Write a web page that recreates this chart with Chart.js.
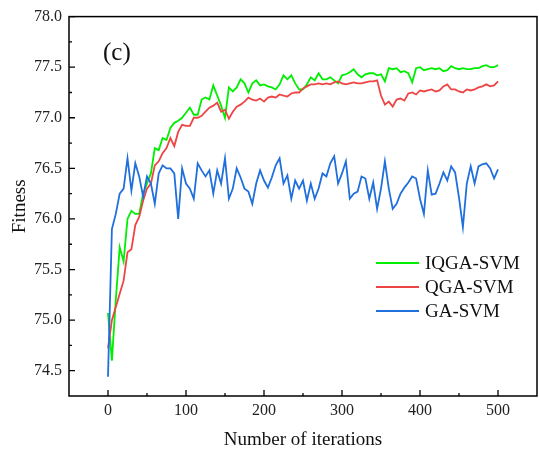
<!DOCTYPE html>
<html>
<head>
<meta charset="utf-8">
<script src="https://cdn.jsdelivr.net/npm/chart.js@4/dist/chart.umd.min.js"></script>
<style>
  body { margin: 0; background: #fff; }
  canvas { display: block; }
</style>
</head>
<body>
<canvas id="fitChart" width="539" height="456"></canvas>
<script>
// iterations (sampled every 5)
const iterations = [
  0, 5, 10, 15, 20, 25, 30, 35, 40, 45, 50, 55, 60, 65, 70, 75, 80, 85, 90, 95,
  100, 105, 110, 115, 120, 125, 130, 135, 140, 145, 150, 155, 160, 165, 170, 175, 180, 185, 190, 195,
  200, 205, 210, 215, 220, 225, 230, 235, 240, 245, 250, 255, 260, 265, 270, 275, 280, 285, 290, 295,
  300, 305, 310, 315, 320, 325, 330, 335, 340, 345, 350, 355, 360, 365, 370, 375, 380, 385, 390, 395,
  400, 405, 410, 415, 420, 425, 430, 435, 440, 445, 450, 455, 460, 465, 470, 475, 480, 485, 490, 495, 500
];

const iqgaSvm = [
  75.07, 74.60, 75.20, 75.72, 75.58, 76.00, 76.08, 76.05, 76.05, 76.25, 76.35, 76.45, 76.70, 76.68, 76.80, 76.78, 76.90, 76.95, 76.97, 77.00,
  77.05, 77.10, 77.03, 77.03, 77.18, 77.20, 77.18, 77.32, 77.22, 77.12, 77.00, 77.30, 77.26, 77.30, 77.38, 77.34, 77.25, 77.34, 77.37, 77.32,
  77.33, 77.31, 77.30, 77.28, 77.33, 77.42, 77.38, 77.42, 77.34, 77.28, 77.28, 77.33, 77.40, 77.37, 77.44, 77.38, 77.38, 77.40, 77.37, 77.34,
  77.42, 77.43, 77.45, 77.48, 77.43, 77.40, 77.43, 77.44, 77.44, 77.42, 77.43, 77.36, 77.49, 77.48, 77.49, 77.45, 77.46, 77.44, 77.35, 77.49,
  77.50, 77.47, 77.48, 77.49, 77.48, 77.49, 77.46, 77.47, 77.51, 77.49, 77.48, 77.49, 77.48, 77.48, 77.49, 77.49, 77.51, 77.52, 77.50, 77.50, 77.52
];

const qgaSvm = [
  74.72, 75.00, 75.13, 75.26, 75.39, 75.67, 75.70, 75.94, 76.02, 76.18, 76.30, 76.35, 76.53, 76.57, 76.65, 76.70, 76.80, 76.72, 76.86, 76.93,
  76.92, 76.92, 77.00, 77.00, 77.02, 77.06, 77.10, 77.12, 77.15, 77.06, 77.08, 76.99, 77.06, 77.11, 77.13, 77.16, 77.20, 77.18, 77.17, 77.19,
  77.16, 77.20, 77.21, 77.20, 77.23, 77.22, 77.21, 77.24, 77.25, 77.25, 77.29, 77.31, 77.33, 77.33, 77.34, 77.33, 77.34, 77.33, 77.35, 77.36,
  77.34, 77.33, 77.34, 77.35, 77.34, 77.34, 77.35, 77.36, 77.36, 77.37, 77.22, 77.13, 77.16, 77.11, 77.18, 77.19, 77.17, 77.24, 77.25, 77.23,
  77.27, 77.26, 77.27, 77.28, 77.26, 77.27, 77.31, 77.33, 77.28, 77.28, 77.26, 77.25, 77.28, 77.27, 77.28, 77.30, 77.31, 77.33, 77.31, 77.32, 77.36
];

const gaSvm = [
  74.44, 75.90, 76.05, 76.25, 76.30, 76.60, 76.28, 76.55, 76.42, 76.22, 76.42, 76.35, 76.15, 76.45, 76.53, 76.50, 76.50, 76.45, 76.00, 76.50,
  76.35, 76.30, 76.20, 76.55, 76.48, 76.42, 76.48, 76.25, 76.48, 76.35, 76.60, 76.20, 76.30, 76.50, 76.41, 76.30, 76.27, 76.15, 76.35, 76.48,
  76.38, 76.31, 76.41, 76.53, 76.60, 76.35, 76.43, 76.20, 76.38, 76.30, 76.38, 76.18, 76.35, 76.20, 76.30, 76.45, 76.42, 76.55, 76.62, 76.35,
  76.45, 76.57, 76.20, 76.25, 76.27, 76.42, 76.40, 76.20, 76.36, 76.10, 76.30, 76.57, 76.30, 76.10, 76.15, 76.25, 76.31, 76.36, 76.42, 76.40,
  76.20, 76.05, 76.48, 76.24, 76.25, 76.35, 76.46, 76.38, 76.52, 76.46, 76.21, 75.92, 76.35, 76.52, 76.35, 76.52, 76.54, 76.55, 76.50, 76.40, 76.49
];

const xMajor = [0, 100, 200, 300, 400, 500];
const xMinor = [50, 150, 250, 350, 450];
const yMajor = [74.5, 75.0, 75.5, 76.0, 76.5, 77.0, 77.5, 78.0];
const yMinor = [74.75, 75.25, 75.75, 76.25, 76.75, 77.25, 77.75];

const serif = "'Liberation Serif', 'Times New Roman', serif";

function toPoints(ys) {
  return ys.map((y, i) => ({ x: iterations[i], y: y }));
}

// frame, inward ticks, legend and panel label
const decorPlugin = {
  id: "decor",
  afterDraw(chart) {
    const ctx = chart.ctx;
    const a = chart.chartArea;
    const xs = chart.scales.x;
    const ys = chart.scales.y;

    ctx.save();
    ctx.strokeStyle = "#000";
    ctx.lineWidth = 1.5;
    ctx.strokeRect(a.left, a.top, a.right - a.left, a.bottom - a.top);

    ctx.lineWidth = 1.3;
    ctx.beginPath();
    xMajor.forEach(v => {
      const px = xs.getPixelForValue(v);
      ctx.moveTo(px, a.bottom); ctx.lineTo(px, a.bottom - 6);
    });
    xMinor.forEach(v => {
      const px = xs.getPixelForValue(v);
      ctx.moveTo(px, a.bottom); ctx.lineTo(px, a.bottom - 3);
    });
    yMajor.forEach(v => {
      const py = ys.getPixelForValue(v);
      ctx.moveTo(a.left, py); ctx.lineTo(a.left + 6, py);
    });
    yMinor.forEach(v => {
      const py = ys.getPixelForValue(v);
      ctx.moveTo(a.left, py); ctx.lineTo(a.left + 3, py);
    });
    ctx.stroke();

    // legend
    ctx.font = "19px " + serif;
    ctx.textBaseline = "middle";
    ctx.textAlign = "left";
    chart.data.datasets.forEach((ds, i) => {
      const y = 263 + i * 24;
      ctx.strokeStyle = ds.borderColor;
      ctx.lineWidth = 2;
      ctx.beginPath();
      ctx.moveTo(376, y); ctx.lineTo(419, y);
      ctx.stroke();
      ctx.fillStyle = "#111";
      ctx.fillText(ds.label, 425, y + 1);
    });

    // panel label
    ctx.font = "25px " + serif;
    ctx.fillStyle = "#111";
    ctx.fillText("(c)", 103, 53);
    ctx.restore();
  }
};

new Chart(
  document.getElementById("fitChart"),
  {
    type: "line",
    data: {
      datasets: [
        {
          label: "IQGA-SVM",
          data: toPoints(iqgaSvm),
          borderColor: "#00ee00",
          borderWidth: 1.8,
          pointRadius: 0,
          tension: 0,
          order: 3
        },
        {
          label: "QGA-SVM",
          data: toPoints(qgaSvm),
          borderColor: "#ef4444",
          borderWidth: 1.8,
          pointRadius: 0,
          tension: 0,
          order: 2
        },
        {
          label: "GA-SVM",
          data: toPoints(gaSvm),
          borderColor: "#1f6fdc",
          borderWidth: 1.8,
          pointRadius: 0,
          tension: 0,
          order: 1
        }
      ]
    },
    options: {
      responsive: false,
      animation: false,
      devicePixelRatio: 1,
      layout: { padding: { top: 15, right: 2, bottom: 0, left: 0 } },
      plugins: {
        legend: { display: false },
        tooltip: { enabled: false }
      },
      scales: {
        x: {
          type: "linear",
          min: -50,
          max: 550,
          grid: { display: false, drawTicks: false },
          border: { display: false },
          afterBuildTicks: s => { s.ticks = xMajor.map(v => ({ value: v })); },
          afterFit: s => { s.height = 60; },
          ticks: {
            autoSkip: false,
            maxRotation: 0,
            padding: 5,
            color: "#222",
            font: { family: serif, size: 16 }
          },
          title: {
            display: true,
            text: "Number of iterations",
            color: "#111",
            font: { family: serif, size: 19 },
            padding: { top: 0, bottom: 5 }
          }
        },
        y: {
          min: 74.25,
          max: 78.0,
          grid: { display: false, drawTicks: false },
          border: { display: false },
          afterBuildTicks: s => { s.ticks = yMajor.map(v => ({ value: v })); },
          afterFit: s => { s.width = 69; },
          ticks: {
            autoSkip: false,
            padding: 7,
            color: "#222",
            font: { family: serif, size: 16 },
            callback: v => Number(v).toFixed(1)
          },
          title: {
            display: true,
            text: "Fitness",
            color: "#111",
            font: { family: serif, size: 19 },
            padding: { top: 9, bottom: 0 }
          }
        }
      }
    },
    plugins: [decorPlugin]
  }
);
</script>
</body>
</html>
